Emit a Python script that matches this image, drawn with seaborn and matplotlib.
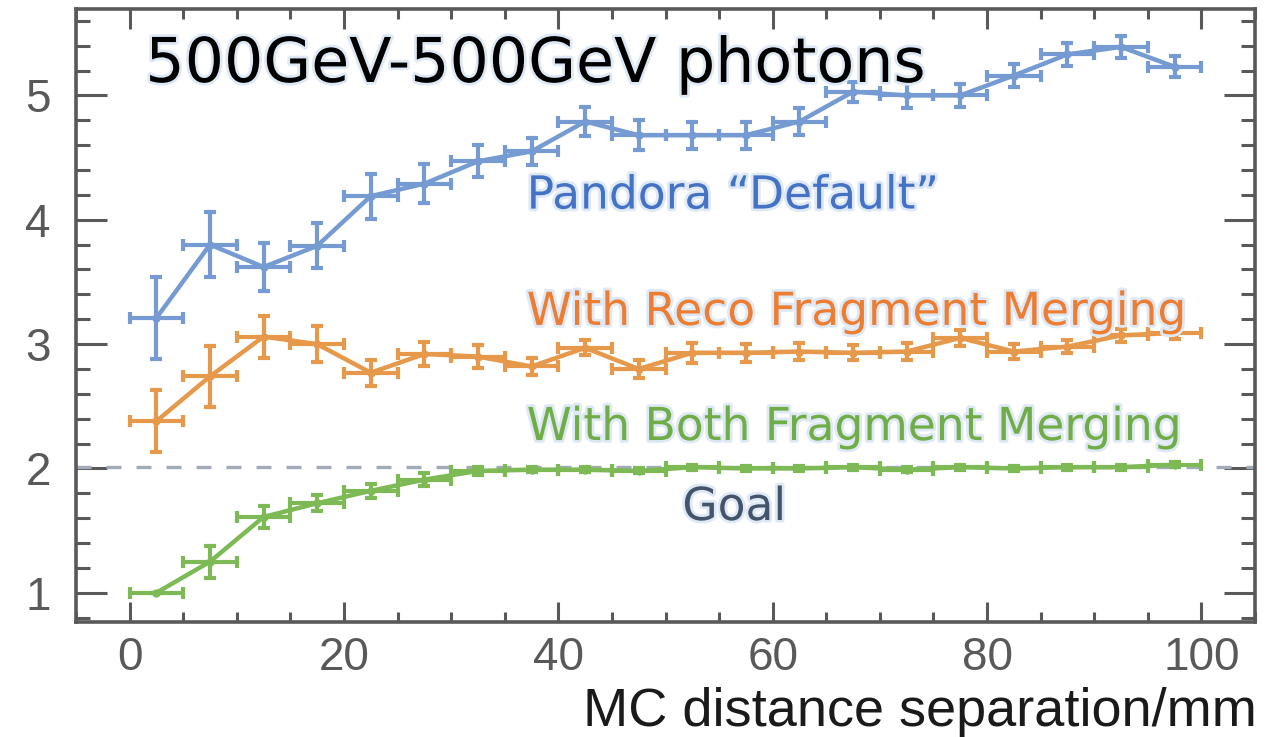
import matplotlib
matplotlib.use("Agg")
import matplotlib.pyplot as plt
import matplotlib.patheffects as pe
from matplotlib.ticker import MultipleLocator
import numpy as np
import pandas as pd
import seaborn as sns

# ---------------- data ----------------
separation = [2.5, 7.5, 12.5, 17.5, 22.5, 27.5, 32.5, 37.5, 42.5, 47.5,
              52.5, 57.5, 62.5, 67.5, 72.5, 77.5, 82.5, 87.5, 92.5, 97.5]
bin_half_width = 2.5

default_vals = [3.21, 3.80, 3.62, 3.79, 4.19, 4.29, 4.47, 4.55, 4.79, 4.68,
                4.68, 4.68, 4.79, 5.03, 5.00, 5.00, 5.16, 5.33, 5.39, 5.23]
default_err = [0.33, 0.26, 0.19, 0.18, 0.18, 0.155, 0.13, 0.11, 0.115, 0.12,
               0.11, 0.11, 0.11, 0.08, 0.10, 0.09, 0.09, 0.09, 0.09, 0.085]

reco_vals = [2.38, 2.74, 3.06, 3.00, 2.77, 2.92, 2.90, 2.82, 2.97, 2.80,
             2.93, 2.93, 2.94, 2.93, 2.94, 3.05, 2.94, 2.98, 3.07, 3.09]
reco_err = [0.25, 0.245, 0.17, 0.145, 0.105, 0.095, 0.09, 0.07, 0.06, 0.075,
            0.08, 0.07, 0.065, 0.06, 0.07, 0.065, 0.06, 0.055, 0.055, 0.05]

both_vals = [1.00, 1.25, 1.61, 1.72, 1.82, 1.91, 1.98, 1.99, 1.99, 1.98,
             2.01, 2.00, 2.00, 2.01, 1.99, 2.01, 2.00, 2.01, 2.01, 2.03]
both_err = [0.0, 0.13, 0.09, 0.065, 0.055, 0.05, 0.03, 0.02, 0.02, 0.02,
            0.02, 0.02, 0.02, 0.02, 0.02, 0.02, 0.02, 0.02, 0.02, 0.02]

goal_value = 2.01

title_text = "500GeV-500GeV photons"
series_labels = ["Pandora \u201cDefault\u201d", "With Reco Fragment Merging",
                 "With Both Fragment Merging"]
goal_label = "Goal"
xlabel_text = "MC distance separation/mm"

x_ticks = [0, 20, 40, 60, 80, 100]
y_ticks = [1, 2, 3, 4, 5]

# ---------------- style ----------------
sns.set_theme(style="white")
plt.rcParams["font.family"] = ["Liberation Sans", "DejaVu Sans"]

line_colors = ["#759BD2", "#E6984B", "#7DB955"]
text_colors = ["#4472C4", "#ED7D31", "#70AD47"]
goal_color = "#A3ABB9"
goal_text_color = "#44546A"
axis_color = "#595959"

fig = plt.figure(figsize=(12.76, 7.37), dpi=100)
ax = fig.add_axes([76 / 1276, 1 - 622 / 737, (1255 - 76) / 1276, (622 - 9) / 737])

df = pd.DataFrame({
    "sep": separation * 3,
    "val": default_vals + reco_vals + both_vals,
    "series": [series_labels[0]] * 20 + [series_labels[1]] * 20 + [series_labels[2]] * 20,
})

ax.axhline(goal_value, color=goal_color, lw=2.4, dashes=(4.5, 4.5), zorder=1)

err_sets = [default_err, reco_err, both_err]
val_sets = [default_vals, reco_vals, both_vals]
for i, lab in enumerate(series_labels):
    sub = df[df["series"] == lab]
    sns.lineplot(data=sub, x="sep", y="val", ax=ax, color=line_colors[i],
                 lw=3.2, marker="o", markersize=6, markeredgewidth=0,
                 legend=False, zorder=3 + i)
    ax.errorbar(separation, val_sets[i], xerr=bin_half_width, yerr=err_sets[i],
                fmt="none", ecolor=line_colors[i], elinewidth=3.0,
                capsize=4.5, capthick=3.0, zorder=3 + i)

ax.set_xlim(-5, 105)
ax.set_ylim(0.765, 5.695)
ax.set_xticks(x_ticks)
ax.set_yticks(y_ticks)
ax.xaxis.set_minor_locator(MultipleLocator(5))
ax.yaxis.set_minor_locator(MultipleLocator(0.2))

for s in ax.spines.values():
    s.set_visible(True)
    s.set_color(axis_color)
    s.set_linewidth(2.6)

ax.tick_params(axis="both", which="both", direction="in", color=axis_color,
               width=2.2, labelcolor=axis_color, labelsize=33,
               top=True, right=True, bottom=True, left=True)
ax.tick_params(axis="x", which="major", length=14.5, pad=10)
ax.tick_params(axis="x", which="minor", length=7)
ax.tick_params(axis="y", which="major", length=22, pad=18)
ax.tick_params(axis="y", which="minor", length=10)
ax.set_xlabel("")
ax.set_ylabel("")

glow = [pe.withStroke(linewidth=4, foreground="#dfe9f6")]
label_family = ["DejaVu Sans"]

ax.text(1.47, 5.108, title_text, fontsize=44.5, color="black",
        family=label_family, ha="left", va="baseline",
        path_effects=glow, zorder=10)

label_pos = [(37.05, 4.09), (37.05, 3.154), (37.05, 2.228)]
for i, lab in enumerate(series_labels):
    ax.text(label_pos[i][0], label_pos[i][1], lab, fontsize=32.8,
            color=text_colors[i], family=label_family,
            ha="left", va="baseline", path_effects=glow, zorder=10)

ax.text(56.4, 1.585, goal_label, fontsize=32.8, color=goal_text_color,
        family=label_family, ha="center", va="baseline",
        path_effects=glow, zorder=10)

fig.text(1257 / 1276, 1 - 712 / 737, xlabel_text, fontsize=39, color="#1a1a1a",
         ha="right", va="center")

fig.savefig("out.png", dpi=100)
